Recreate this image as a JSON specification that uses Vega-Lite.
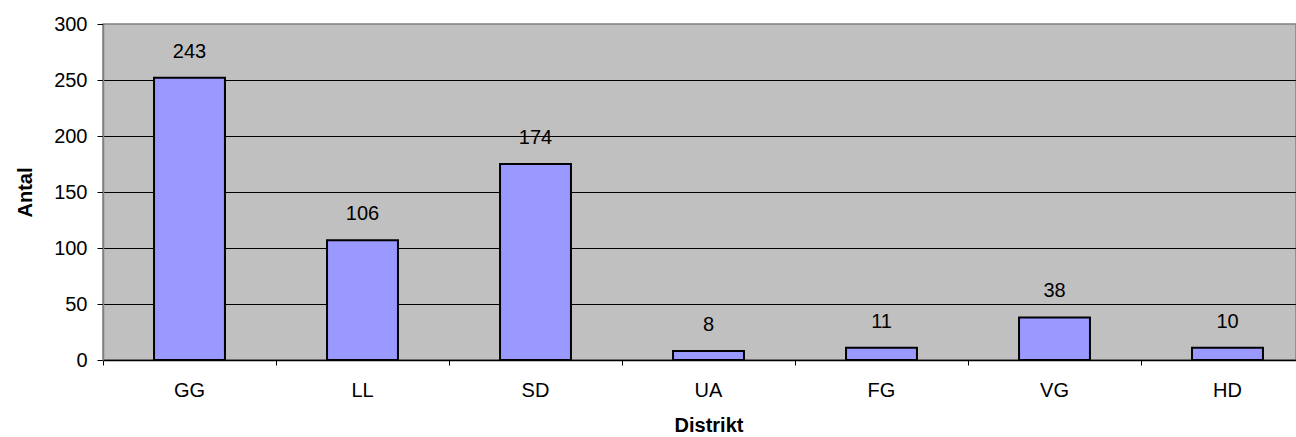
{
  "$schema": "https://vega.github.io/schema/vega-lite/v6.json",
  "autosize": {"type": "none"},
  "padding": {"left": 103, "top": 24, "right": 0, "bottom": 77},
  "width": 1193,
  "height": 336,
  "background": "white",
  "config": {
    "font": "Liberation Sans",
    "view": {"fill": "#C0C0C0", "stroke": "#808080", "strokeWidth": 1.5}
  },
  "data": {
    "values": [
      {"Distrikt": "GG", "Antal": 252, "Etikett": "243"},
      {"Distrikt": "LL", "Antal": 107, "Etikett": "106"},
      {"Distrikt": "SD", "Antal": 175, "Etikett": "174"},
      {"Distrikt": "UA", "Antal": 8, "Etikett": "8"},
      {"Distrikt": "FG", "Antal": 11, "Etikett": "11"},
      {"Distrikt": "VG", "Antal": 38, "Etikett": "38"},
      {"Distrikt": "HD", "Antal": 11, "Etikett": "10"}
    ]
  },
  "encoding": {
    "x": {
      "field": "Distrikt",
      "type": "nominal",
      "sort": null,
      "scale": {"range": [0, 1211], "paddingInner": 0, "paddingOuter": 0},
      "axis": {
        "title": "Distrikt",
        "titleFont": "Liberation Sans",
        "titleFontSize": 20,
        "titleFontWeight": "bold",
        "titleColor": "black",
        "titlePadding": 15,
        "labelAngle": 0,
        "labelFont": "Liberation Sans",
        "labelFontSize": 20,
        "labelColor": "black",
        "labelPadding": 15,
        "bandPosition": 0,
        "ticks": true,
        "tickSize": 5,
        "tickColor": "black",
        "domainColor": "black",
        "domainWidth": 1.5,
        "grid": false
      }
    },
    "y": {
      "field": "Antal",
      "type": "quantitative",
      "scale": {"domain": [0, 300], "nice": false},
      "axis": {
        "title": "Antal",
        "titleFont": "Liberation Sans",
        "titleFontSize": 20,
        "titleFontWeight": "bold",
        "titleColor": "black",
        "titlePadding": 18,
        "values": [0, 50, 100, 150, 200, 250, 300],
        "labelFont": "Liberation Sans",
        "labelFontSize": 20,
        "labelColor": "black",
        "labelPadding": 10,
        "tickSize": 6,
        "tickColor": "black",
        "domainColor": "#808080",
        "domainWidth": 1.5,
        "grid": true,
        "gridColor": {"condition": {"test": "datum.value == 300 || datum.value == 0", "value": "transparent"}, "value": "black"},
        "gridWidth": 1,
        "gridOpacity": 1
      }
    }
  },
  "layer": [
    {
      "mark": {"type": "bar", "fill": "#9999FF", "stroke": "black", "strokeWidth": 2, "width": {"band": 0.41}}
    },
    {
      "mark": {"type": "text", "dy": -26, "font": "Liberation Sans", "fontSize": 20, "color": "black", "baseline": "middle", "align": "center"},
      "encoding": {"text": {"field": "Etikett", "type": "nominal"}}
    }
  ]
}
